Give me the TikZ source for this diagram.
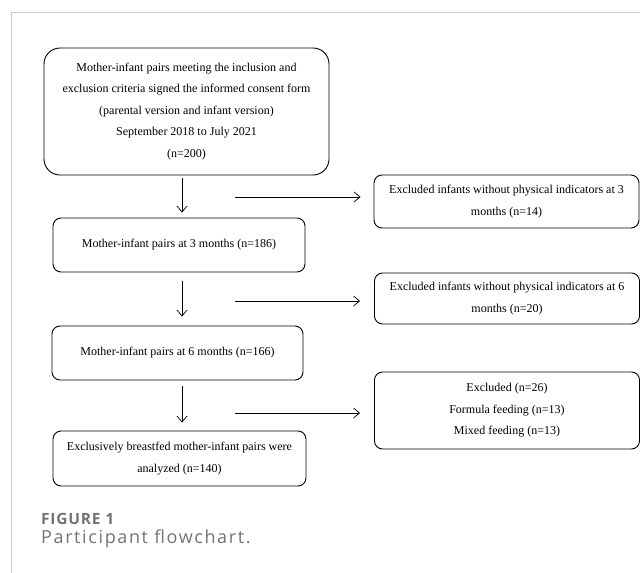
\documentclass[tikz,border=0pt]{standalone}
\usepackage{fontspec}
\setmainfont{Liberation Serif}
\newfontfamily\capfont{Open Sans}
\usetikzlibrary{arrows.meta,positioning,calc}
\definecolor{framegray}{HTML}{CCCCCC}
\definecolor{capgray}{HTML}{737373}
\tikzset{
  box/.style={draw, line width=0.9pt, rounded corners=8pt, align=center,
              font=\fontsize{12}{21.5}\selectfont, inner sep=3pt},
  bigbox/.style={box, rounded corners=16pt},
  side/.style={box, minimum width=265pt},
  link/.style={-{Straight Barb[length=6pt,width=10pt]}, line width=0.7pt},
  frame/.style={draw=framegray, line width=0.8pt}
}

\begin{document}
\begin{tikzpicture}[x=1pt,y=-1pt]
  \useasboundingbox (0,0) rectangle (640,573);
  \draw[frame] (640,12) -- (11,12) -- (11,573);
  \node[bigbox, minimum width=285pt, minimum height=127pt] (enrol) at (186.5,111.5)
    {Mother-infant pairs meeting the inclusion and\\exclusion criteria signed the informed consent form\\(parental version and infant version)\\September 2018 to July 2021\\(n=200)};
  \node[box, minimum width=252pt, minimum height=54pt] (three) at (179,245)
    {Mother-infant pairs at 3 months (n=186)};
  \node[box, minimum width=251pt, minimum height=54pt] (six) at (177.5,353)
    {Mother-infant pairs at 6 months (n=166)};
  \node[box, minimum width=253pt, minimum height=55pt] (final) at (179.5,458.5)
    {Exclusively breastfed mother-infant pairs were\\analyzed (n=140)};
  \node[side, minimum height=53pt] (excl3) at (506.5,201.5)
    {Excluded infants without physical indicators at 3\\months (n=14)};
  \node[side, minimum height=51pt] (excl6) at (507,298.5)
    {Excluded infants without physical indicators at 6\\months (n=20)};
  \node[side, minimum height=77pt] (exclfeed) at (507,410.5)
    {Excluded (n=26)\\Formula feeding (n=13)\\Mixed feeding (n=13)};
  \coordinate (axis) at (182,0);
  \coordinate (h1) at (235,197);
  \coordinate (h2) at (235,301);
  \coordinate (h3) at (235,413);
  \draw[link, shorten <=3pt, shorten >=5pt] (enrol.south -| axis) -- (three.north -| axis);
  \draw[link, shorten <=9pt, shorten >=9pt] (three.south -| axis) -- (six.north -| axis);
  \draw[link, shorten <=6pt, shorten >=8pt] (six.south -| axis) -- (final.north -| axis);
  \draw[link, shorten >=13pt] (h1) -- (h1 -| excl3.west);
  \draw[link, shorten >=14pt] (h2) -- (h2 -| excl6.west);
  \draw[link, shorten >=14pt] (h3) -- (h3 -| exclfeed.west);
  \node[anchor=base west, inner sep=0, text=capgray, font=\capfont\bfseries\fontsize{15.5}{18}\selectfont\addfontfeature{LetterSpace=5}] (fignum) at (41,524) {FIGURE 1};
  \node[anchor=base west, inner sep=0, text=capgray, font=\capfont\fontsize{18}{21}\selectfont\addfontfeature{LetterSpace=9}] (figtitle) at (41,543) {Participant flowchart.};
\end{tikzpicture}
\end{document}
